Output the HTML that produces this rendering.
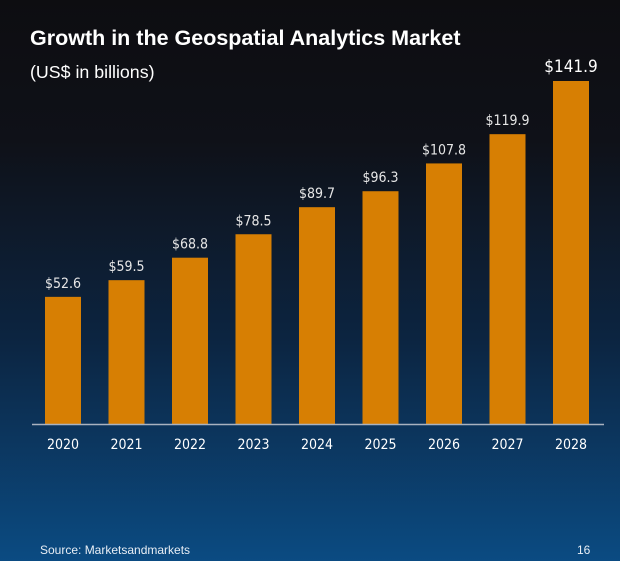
<!DOCTYPE html>
<html><head><meta charset="utf-8"><style>
body{margin:0;width:620px;height:561px;overflow:hidden;font-family:"Liberation Sans",sans-serif;}
#bg{position:absolute;left:0;top:0;width:620px;height:561px;background:linear-gradient(#0d0d11 0%,#0f1118 25%,#0c2440 60%,#0b4b82 100%);}
.t{position:absolute;color:#fff;}
</style></head><body>
<div id="bg"></div>
<div class="t" style="left:30px;top:26px;font-size:21.5px;font-weight:bold;">Growth in the Geospatial Analytics Market</div>
<div class="t" style="left:30px;top:62px;font-size:17.8px;">(US$ in billions)</div>
<svg id="c" width="620" height="561" style="position:absolute;left:0;top:0"></svg>
<div class="t" style="left:40px;top:543px;font-size:12px;color:#e8eef5;">Source: Marketsandmarkets</div>
<div class="t" style="left:577px;top:543px;font-size:12px;color:#e8eef5;">16</div>
<script>
const years=["2020","2021","2022","2023","2024","2025","2026","2027","2028"];
const values=[52.6,59.5,68.8,78.5,89.7,96.3,107.8,119.9,141.9];
const labels=["$52.6","$59.5","$68.8","$78.5","$89.7","$96.3","$107.8","$119.9","$141.9"];
const svg=document.getElementById('c');const NS="http://www.w3.org/2000/svg";
const base=424,scale=343/141.9;
const x=i=>63+63.5*i, y=v=>base-v*scale;
function mk(t,a){const e=document.createElementNS(NS,t);for(const k in a)e.setAttribute(k,a[k]);svg.appendChild(e);return e;}
years.forEach((yr,i)=>{
 const r=mk('rect',{x:x(i)-18,y:y(values[i]),width:36,height:base-y(values[i]),fill:'#d77f03'});
 
 
 const last=i===years.length-1;
 const l=mk('text',{x:x(i),y:y(values[i])-9,'text-anchor':'middle',fill:last?'#fff':'#e6e6e6','font-size':last?17:14,'font-family':'DejaVu Sans Condensed, Liberation Sans, sans-serif'});
 l.textContent=labels[i];
 
 
 const t=mk('text',{x:x(i),y:449,'text-anchor':'middle',fill:'#fff','font-size':14,'font-family':'DejaVu Sans Condensed, Liberation Sans, sans-serif'});
 t.textContent=yr;
 
 
});
const ax=mk('line',{x1:32,x2:604,y1:base+0.5,y2:base+0.5,stroke:'#a9b2bf','stroke-width':1.5});


</script>
</body></html>
